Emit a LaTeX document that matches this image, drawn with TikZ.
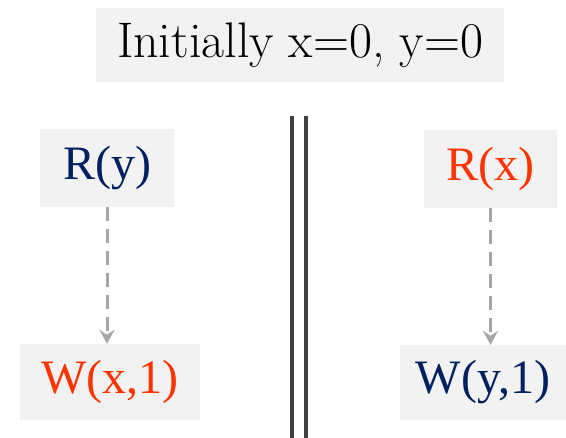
\documentclass[tikz,border=0pt]{standalone}
\usepackage{fontspec}
\newfontfamily\opfont{Liberation Serif}
\usepackage{tikz}
\usetikzlibrary{arrows.meta,positioning,calc}
\usepackage{xcolor}
\definecolor{opnavy}{HTML}{002060}
\definecolor{opred}{HTML}{FF3300}
\definecolor{boxgray}{HTML}{F2F2F2}
\definecolor{arrgray}{HTML}{A6A6A6}
\definecolor{bargray}{HTML}{404040}

\begin{document}
\begin{tikzpicture}[x=1pt,y=1pt,
    opbox/.style={fill=boxgray,inner sep=0pt,align=center,
      font=\opfont\fontsize{48}{52}\selectfont},
    order/.style={arrgray,line width=3pt,dash pattern=on 14pt off 8pt,
      -{Stealth[length=14pt,width=15pt,inset=5pt]}}]
      \useasboundingbox (0,0) rectangle (566,438);
      \node[fill=boxgray,minimum width=408pt,minimum height=74pt,inner sep=0pt,
        font=\fontsize{50}{54}\selectfont] (init) at (300,393) {Initially x=0, y=0};
      % left thread
      \node[opbox,text=opnavy,minimum width=134pt,minimum height=78pt] (ry) at (107,270) {R(y)};
      \node[opbox,text=opred,minimum width=180pt,minimum height=76pt] (wx) at (110,56) {W(x,1)};
      % right thread
      \node[opbox,text=opred,minimum width=133pt,minimum height=78pt] (rx) at (490.5,269) {R(x)};
      \node[opbox,text=opnavy,minimum width=166pt,minimum height=75pt] (wy) at (483,55.5) {W(y,1)};
      \draw[order] (ry.south) -- (ry.south |- wx.north);
      \draw[order] (rx.south) -- (rx.south |- wy.north);
      % parallel bars
      \draw[bargray,line width=4pt] (292,322) -- (292,0);
      \draw[bargray,line width=4pt] (306,322) -- (306,0);
    \end{tikzpicture}
\end{document}
